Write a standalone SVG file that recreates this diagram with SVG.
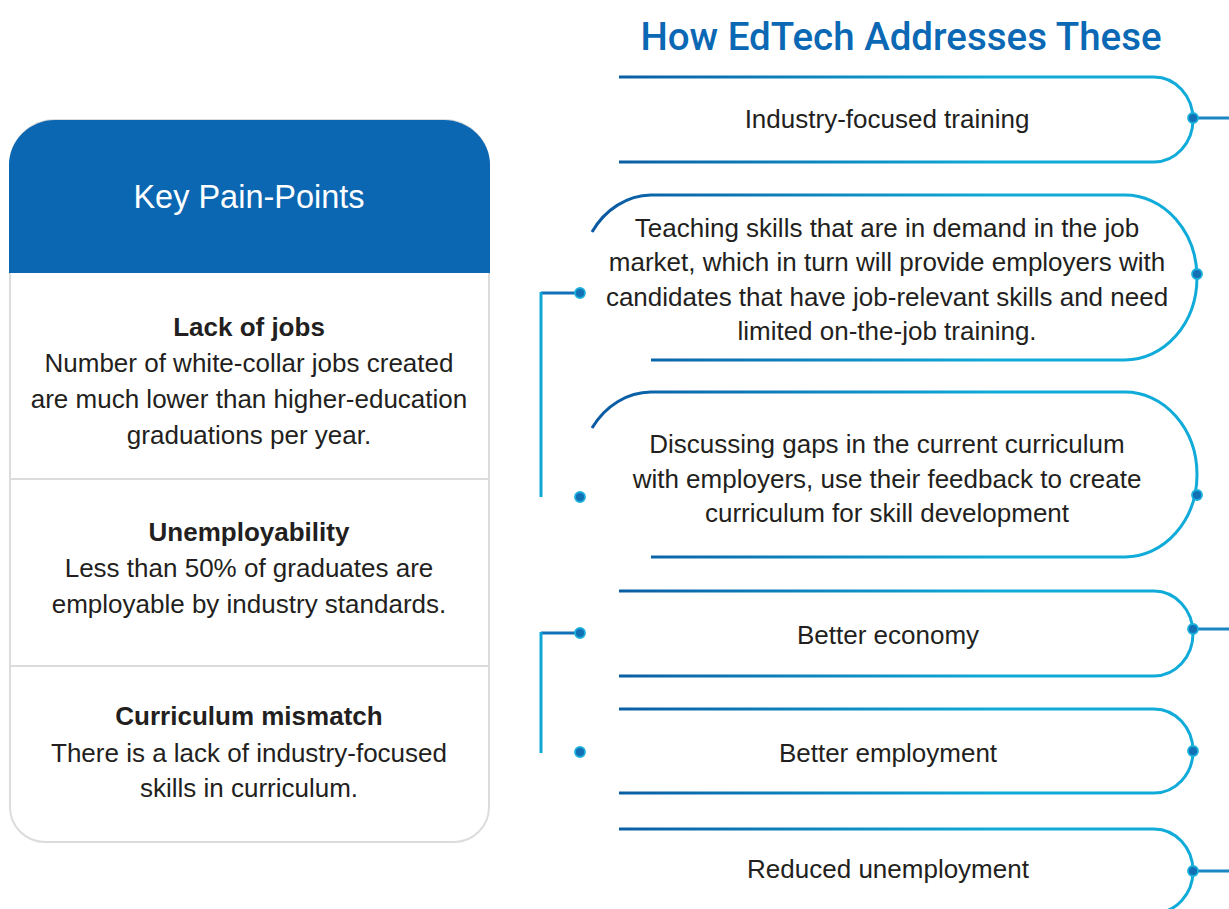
<svg xmlns="http://www.w3.org/2000/svg" width="1229" height="909" viewBox="0 0 1229 909">
<defs>
<linearGradient id="lg" gradientUnits="userSpaceOnUse" x1="600" y1="0" x2="1000" y2="0">
<stop offset="0" stop-color="#0A5AA2"/>
<stop offset="1" stop-color="#10ABD9"/>
</linearGradient>
<style>
.t{font-family:"Liberation Sans",Arial,sans-serif;fill:#231F20;font-size:26px;text-anchor:middle}
.b{font-weight:bold}
.shape{fill:none;stroke:url(#lg);stroke-width:3}
.dot{fill:#1370B5;stroke:#1AB0DC;stroke-width:1.8}
.cr{stroke:#1A86C4;stroke-width:3;fill:none}
.cl{stroke:#0FA6D6;stroke-width:3;fill:none}
</style>
</defs>
<rect width="1229" height="909" fill="#fff"/>
<text x="901" y="50" style="font-family:Roboto,'Liberation Sans',Arial,sans-serif;font-size:38.5px;font-weight:500;fill:#0B68B4;text-anchor:middle">How EdTech Addresses These</text>

<g id="panel">
<path d="M10 165 A45 45 0 0 1 55 120 H444 A45 45 0 0 1 489 165 V807 A35 35 0 0 1 454 842 H45 A35 35 0 0 1 10 807 Z" fill="#fff" stroke="#dcdcdc" stroke-width="2"/>
<path d="M9 165 A46 45 0 0 1 55 120 H444 A46 45 0 0 1 490 165 V273 H9 Z" fill="#0B67B2"/>
<line x1="10" y1="479" x2="489" y2="479" stroke="#dcdcdc" stroke-width="2"/>
<line x1="10" y1="666" x2="489" y2="666" stroke="#dcdcdc" stroke-width="2"/>
<text class="t" x="249" y="208" style="fill:#fff;font-size:32.5px">Key Pain-Points</text>
</g>
<g id="pain1">
<text class="t b" x="249" y="336">Lack of jobs</text>
<text class="t" x="249" y="372">Number of white-collar jobs created</text>
<text class="t" x="249" y="408">are much lower than higher-education</text>
<text class="t" x="249" y="444">graduations per year.</text>
</g>
<g id="pain2">
<text class="t b" x="249" y="541">Unemployability</text>
<text class="t" x="249" y="577">Less than 50% of graduates are</text>
<text class="t" x="249" y="613">employable by industry standards.</text>
</g>
<g id="pain3">
<text class="t b" x="249" y="725">Curriculum mismatch</text>
<text class="t" x="249" y="762">There is a lack of industry-focused</text>
<text class="t" x="249" y="797">skills in curriculum.</text>
</g>

<g id="connectors">
<path class="cr" d="M1193 118 H1229"/>
<path class="cr" d="M1193 629 H1229"/>
<path class="cr" d="M1193 871 H1229"/>
<path d="M580 293 H541" stroke="#1170B8" stroke-width="3" fill="none"/>
<path class="cl" d="M541 292 V497"/>
<path d="M580 633 H541" stroke="#1170B8" stroke-width="3" fill="none"/>
<path class="cl" d="M541 632 V753"/>
</g>

<g id="s1">
<path class="shape" d="M619 77 H1154 A39 42.5 0 0 1 1154 162 H619"/>
<circle class="dot" cx="1193" cy="118" r="5"/>
<text class="t" x="887" y="128">Industry-focused training</text>
</g>
<g id="s2">
<path class="shape" d="M592 232 A72 82.5 0 0 1 651 195 H1125 A72 82.5 0 0 1 1125 360 H651"/>
<circle class="dot" cx="1197" cy="274" r="5"/>
<circle class="dot" cx="580" cy="293" r="5"/>
<text class="t" x="887" y="237">Teaching skills that are in demand in the job</text>
<text class="t" x="887" y="271">market, which in turn will provide employers with</text>
<text class="t" x="887" y="306">candidates that have job-relevant skills and need</text>
<text class="t" x="887" y="340">limited on-the-job training.</text>
</g>
<g id="s3">
<path class="shape" d="M592 428 A72 82.5 0 0 1 651 392 H1125 A72 82.5 0 0 1 1125 557 H651"/>
<circle class="dot" cx="1197" cy="495" r="5"/>
<circle class="dot" cx="580" cy="497" r="5"/>
<text class="t" x="887" y="453">Discussing gaps in the current curriculum</text>
<text class="t" x="887" y="488">with employers, use their feedback to create</text>
<text class="t" x="887" y="522">curriculum for skill development</text>
</g>
<g id="s4">
<path class="shape" d="M619 591 H1154 A39 42.5 0 0 1 1154 676 H619"/>
<circle class="dot" cx="1193" cy="629" r="5"/>
<circle class="dot" cx="580" cy="633" r="5"/>
<text class="t" x="888" y="644">Better economy</text>
</g>
<g id="s5">
<path class="shape" d="M619 709 H1154 A39 42 0 0 1 1154 793 H619"/>
<circle class="dot" cx="1193" cy="751" r="5"/>
<circle class="dot" cx="580" cy="752" r="5"/>
<text class="t" x="888" y="762">Better employment</text>
</g>
<g id="s6">
<path class="shape" d="M619 829 H1154 A39 42 0 0 1 1154 913 H619"/>
<circle class="dot" cx="1193" cy="871" r="5"/>
<text class="t" x="888" y="878">Reduced unemployment</text>
</g>
</svg>
